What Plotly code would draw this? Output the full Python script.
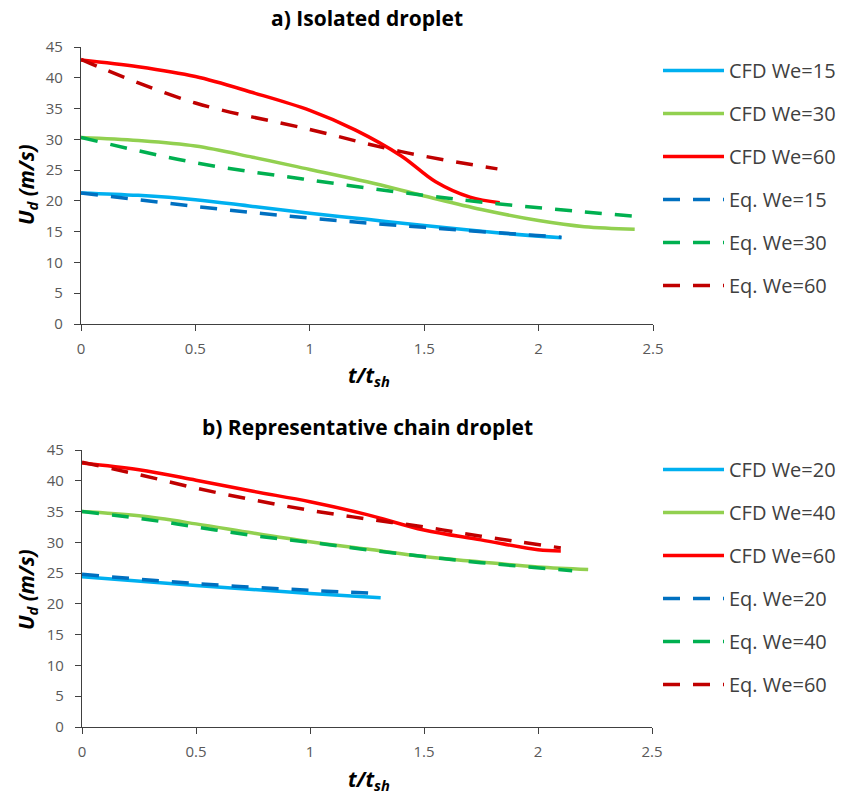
import plotly.graph_objects as go

# ---------------- data: a) Isolated droplet ----------------
a_cfd15_t = [0, 0.25, 0.5, 0.75, 1.0, 1.25, 1.5, 1.83, 2.1]
a_cfd15_u = [21.3, 20.9, 20.2, 19.1, 18.0, 17.0, 16.0, 14.8, 14.0]
a_cfd30_t = [0, 0.25, 0.5, 0.75, 1.0, 1.25, 1.5, 1.75, 2.0, 2.2, 2.42]
a_cfd30_u = [30.3, 29.8, 28.9, 27.1, 25.1, 23.1, 20.8, 18.6, 16.8, 15.8, 15.4]
a_cfd60_t = [0, 0.25, 0.5, 0.75, 1.0, 1.2, 1.4, 1.55, 1.7, 1.83]
a_cfd60_u = [42.9, 41.8, 40.2, 37.6, 34.7, 31.5, 27.3, 23.1, 20.6, 19.7]
a_eq15_t = [0, 0.5, 1.0, 1.5, 2.1]
a_eq15_u = [21.3, 19.1, 17.2, 15.7, 14.1]
a_eq30_t = [0, 0.5, 1.0, 1.5, 1.83, 2.42]
a_eq30_u = [30.3, 26.2, 23.4, 20.9, 19.5, 17.5]
a_eq60_t = [0, 0.1, 0.5, 1.0, 1.4, 1.82]
a_eq60_u = [43.0, 41.4, 35.9, 31.6, 28.0, 25.2]

# ---------------- data: b) Representative chain droplet ----------------
b_cfd20_t = [0, 0.5, 1.0, 1.31]
b_cfd20_u = [24.4, 23.0, 21.7, 21.0]
b_cfd40_t = [0, 0.25, 0.5, 0.75, 1.0, 1.25, 1.5, 1.75, 2.0, 2.22]
b_cfd40_u = [35.0, 34.3, 33.0, 31.5, 30.1, 28.9, 27.7, 26.8, 26.0, 25.6]
b_cfd60_t = [0, 0.25, 0.5, 0.75, 1.0, 1.25, 1.5, 1.75, 2.0, 2.1]
b_cfd60_u = [42.9, 41.8, 40.1, 38.3, 36.6, 34.5, 32.0, 30.4, 28.8, 28.6]
b_eq20_t = [0, 0.5, 1.0, 1.3]
b_eq20_u = [24.8, 23.3, 22.2, 21.7]
b_eq40_t = [0, 0.25, 0.5, 0.75, 1.0, 1.25, 1.5, 1.75, 2.15]
b_eq40_u = [35.0, 33.9, 32.5, 31.1, 30.0, 28.8, 27.7, 26.7, 25.4]
b_eq60_t = [0, 0.25, 0.5, 0.75, 1.0, 1.25, 1.5, 1.75, 2.1]
b_eq60_u = [43.0, 41.0, 38.8, 36.9, 35.2, 33.8, 32.5, 31.0, 29.1]

x_ticks = [0, 0.5, 1, 1.5, 2, 2.5]
x_tick_labels = ["0", "0.5", "1", "1.5", "2", "2.5"]
y_ticks = list(range(0, 50, 5))

COL = {
    "cfd_lo": "#00B0F0", "cfd_mid": "#92D050", "cfd_hi": "#FF0000",
    "eq_lo": "#0070C0", "eq_mid": "#00B050", "eq_hi": "#C00000",
}
DASH = "17px,13px"
LW = 3.5
FONT = "'Open Sans', sans-serif"

fig = go.Figure()

def add(t, u, name, color, dash, xa, ya, legend, group):
    fig.add_trace(go.Scatter(
        x=t, y=u, name=name, mode="lines",
        line=dict(color=color, width=LW, dash=dash, shape="spline", smoothing=1.0),
        xaxis=xa, yaxis=ya, legend=legend, legendgroup=group,
        hoverinfo="x+y+name",
    ))

add(a_cfd15_t, a_cfd15_u, "CFD We=15", COL["cfd_lo"], "solid", "x", "y", "legend", "a1")
add(a_cfd30_t, a_cfd30_u, "CFD We=30", COL["cfd_mid"], "solid", "x", "y", "legend", "a2")
add(a_cfd60_t, a_cfd60_u, "CFD We=60", COL["cfd_hi"], "solid", "x", "y", "legend", "a3")
add(a_eq15_t, a_eq15_u, "Eq. We=15", COL["eq_lo"], DASH, "x", "y", "legend", "a4")
add(a_eq30_t, a_eq30_u, "Eq. We=30", COL["eq_mid"], DASH, "x", "y", "legend", "a5")
add(a_eq60_t, a_eq60_u, "Eq. We=60", COL["eq_hi"], DASH, "x", "y", "legend", "a6")

add(b_cfd20_t, b_cfd20_u, "CFD We=20", COL["cfd_lo"], "solid", "x2", "y2", "legend2", "b1")
add(b_cfd40_t, b_cfd40_u, "CFD We=40", COL["cfd_mid"], "solid", "x2", "y2", "legend2", "b2")
add(b_cfd60_t, b_cfd60_u, "CFD We=60", COL["cfd_hi"], "solid", "x2", "y2", "legend2", "b3")
add(b_eq20_t, b_eq20_u, "Eq. We=20", COL["eq_lo"], DASH, "x2", "y2", "legend2", "b4")
add(b_eq40_t, b_eq40_u, "Eq. We=40", COL["eq_mid"], DASH, "x2", "y2", "legend2", "b5")
add(b_eq60_t, b_eq60_u, "Eq. We=60", COL["eq_hi"], DASH, "x2", "y2", "legend2", "b6")

W, H = 843, 802
def px_x(p): return p / W
def px_y(p): return 1 - p / H

axis_common = dict(
    showgrid=False, zeroline=False, showline=True, linecolor="#404040", linewidth=1.3,
    ticks="outside", ticklen=6, tickcolor="#404040", tickwidth=1.3, automargin=False,
    tickfont=dict(family=FONT, size=15, color="#595959"),
)
xaxis_common = dict(axis_common, range=[0, 2.5], tickvals=x_ticks, ticktext=x_tick_labels,
                    ticklabelstandoff=5)
yaxis_common = dict(axis_common, range=[0, 45], tickvals=y_ticks, ticklabelstandoff=8)

legend_common = dict(
    font=dict(family=FONT, size=20, color="#404040"),
    itemwidth=61, traceorder="grouped", tracegroupgap=14,
    bgcolor="rgba(0,0,0,0)", xanchor="left", yanchor="top",
)

TITLE_FONT = dict(family=FONT, size=21, color="#000000")
XT = "<b><i>t/t<sub>sh</sub></i></b>"
YT = "<b><i>U<sub>d</sub> (m/s)</i></b>"

fig.update_layout(
    width=W, height=H, autosize=False,
    margin=dict(l=0, r=0, t=0, b=0, autoexpand=False),
    paper_bgcolor="white", plot_bgcolor="white",
    font=dict(family=FONT),
    showlegend=True,
    xaxis=dict(xaxis_common, domain=[px_x(81), px_x(653)], anchor="y"),
    yaxis=dict(yaxis_common, domain=[px_y(324), px_y(47)], anchor="x"),
    xaxis2=dict(xaxis_common, domain=[px_x(82), px_x(652)], anchor="y2"),
    yaxis2=dict(yaxis_common, domain=[px_y(727), px_y(450)], anchor="x2"),
    legend=dict(legend_common, x=px_x(658), y=px_y(51)),
    legend2=dict(legend_common, x=px_x(658), y=px_y(450)),
    annotations=[
        dict(text="<b>a) Isolated droplet</b>", x=px_x(367), y=px_y(18), xref="paper", yref="paper",
             xanchor="center", yanchor="middle", showarrow=False, font=TITLE_FONT),
        dict(text="<b>b) Representative chain droplet</b>", x=px_x(367), y=px_y(427), xref="paper", yref="paper",
             xanchor="center", yanchor="middle", showarrow=False, font=TITLE_FONT),
        dict(text=XT, x=px_x(369), y=px_y(376), xref="paper", yref="paper",
             xanchor="center", yanchor="middle", showarrow=False, font=TITLE_FONT),
        dict(text=XT, x=px_x(369), y=px_y(780), xref="paper", yref="paper",
             xanchor="center", yanchor="middle", showarrow=False, font=TITLE_FONT),
        dict(text=YT, x=px_x(27), y=px_y(185), xref="paper", yref="paper", textangle=-90,
             xanchor="center", yanchor="middle", showarrow=False, font=TITLE_FONT),
        dict(text=YT, x=px_x(27), y=px_y(590), xref="paper", yref="paper", textangle=-90,
             xanchor="center", yanchor="middle", showarrow=False, font=TITLE_FONT),
    ],
)

fig.write_html("out.html", config={"displayModeBar": False},
               post_script="document.body.style.margin='0px';")
